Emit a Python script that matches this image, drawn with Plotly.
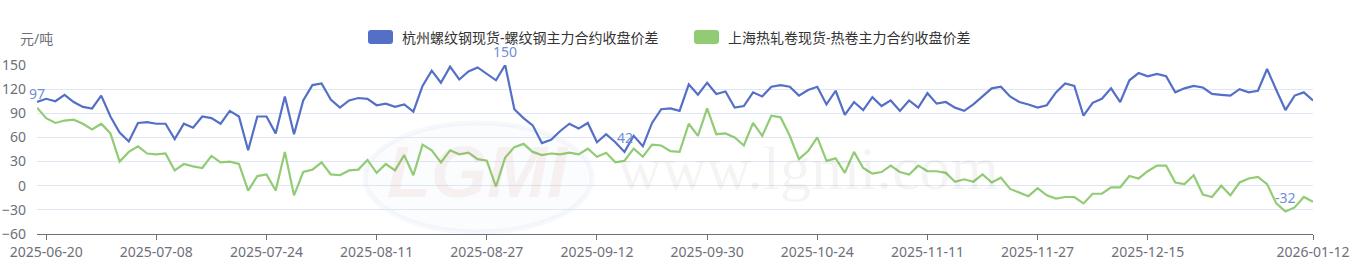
import pandas as pd
import plotly.graph_objects as go

# ---------------- data ----------------
HOLIDAYS = ["2025-10-01", "2025-10-02", "2025-10-03", "2025-10-06", "2025-10-07",
            "2025-10-08", "2026-01-01", "2026-01-02"]
dates = [d.strftime("%Y-%m-%d") for d in pd.bdate_range("2025-06-19", "2026-01-12")
         if d.strftime("%Y-%m-%d") not in HOLIDAYS]

rebar_spread = [
    104, 108, 105, 113, 104, 98, 96, 112, 86, 66,
    55, 78, 79, 77, 77, 58, 77, 72, 86, 84,
    77, 93, 86, 44, 86, 86, 65, 111, 64, 106,
    125, 127, 107, 97, 106, 109, 108, 100, 102, 98,
    101, 92, 124, 143, 128, 148, 132, 142, 147, 139,
    131, 150, 95, 84, 75, 53, 57, 68, 77, 71,
    78, 54, 64, 54, 42, 62, 49, 78, 95, 96,
    93, 126, 113, 128, 114, 117, 97, 99, 116, 111,
    123, 125, 123, 112, 119, 123, 101, 118, 88, 104,
    94, 110, 99, 106, 93, 106, 97, 115, 102, 104,
    97, 93, 101, 111, 121, 123, 111, 104, 101, 97,
    100, 116, 127, 124, 87, 103, 108, 121, 104, 131,
    140, 136, 139, 136, 116, 121, 124, 122, 114, 113,
    112, 120, 116, 118, 145, 119, 94, 112, 116, 106,
]
hrc_spread = [
    97, 84, 78, 81, 82, 77, 70, 77, 65, 30,
    42, 49, 40, 39, 40, 19, 27, 24, 22, 37,
    29, 30, 27, -6, 12, 14, -6, 42, -12, 17,
    20, 29, 14, 13, 19, 20, 32, 16, 27, 19,
    38, 13, 51, 44, 29, 44, 39, 41, 33, 31,
    -1, 35, 48, 52, 42, 38, 40, 39, 41, 39,
    46, 36, 41, 29, 31, 46, 36, 51, 50, 43,
    42, 77, 62, 96, 64, 65, 60, 50, 78, 62,
    87, 85, 62, 33, 43, 60, 31, 34, 16, 42,
    22, 15, 17, 25, 17, 14, 25, 18, 18, 16,
    5, 8, 5, 14, 4, 10, -4, -9, -13, -3,
    -12, -16, -14, -14, -22, -10, -10, -2, -2, 12,
    9, 18, 25, 25, 4, 2, 13, -11, -14, 0,
    -12, 4, 9, 11, 2, -22, -32, -27, -14, -20,
]
tick_labels = ["2025-06-20", "2025-07-08", "2025-07-24", "2025-08-11", "2025-08-27",
               "2025-09-12", "2025-09-30", "2025-10-24", "2025-11-11", "2025-11-27",
               "2025-12-15", "2026-01-12"]
series_names = ["杭州螺纹钢现货-螺纹钢主力合约收盘价差", "上海热轧卷现货-热卷主力合约收盘价差"]
colors = ["#5470C6", "#91CC75"]
y_ticks = [-60, -30, 0, 30, 60, 90, 120, 150]

# ---------------- layout geometry ----------------
W, H = 1360, 275
L, R, T, B = 37, 47, 65, 41
PW, PH = W - L - R, H - T - B


def px(xp):
    return (xp - L) / PW


def py(yp):
    return (H - B - yp) / PH


FONT = "Noto Sans, Noto Sans CJK SC, sans-serif"
GRAY = "#6E7079"

fig = go.Figure()
for name, vals, col in zip(series_names, [rebar_spread, hrc_spread], colors):
    fig.add_trace(go.Scatter(x=dates, y=vals, mode="lines", name=name,
                             line=dict(color=col, width=2.2), showlegend=False,
                             hoverinfo="x+y", cliponaxis=False))

# max / min labels
ann = []
LABEL_COLOR = "#6F8DD8"
for vals in [rebar_spread, hrc_spread]:
    for v in (max(vals), min(vals)):
        i = vals.index(v)
        ann.append(dict(x=dates[i], y=v, xref="x", yref="y", text=str(v), showarrow=False,
                        yshift=14, font=dict(family=FONT, size=14, color=LABEL_COLOR),
                        xanchor="center", yanchor="middle"))

# y-axis name
ann.append(dict(x=px(36), y=py(38), xref="paper", yref="paper", text="元/吨", showarrow=False,
                xanchor="center", yanchor="middle", font=dict(family=FONT, size=14, color=GRAY)))

# manual legend
shapes = []


def rrect(x0, y0, x1, y1, r):
    # rounded rectangle path in paper coords built from pixel values
    pts = (f"M {px(x0 + r)},{py(y0)} L {px(x1 - r)},{py(y0)} "
           f"Q {px(x1)},{py(y0)} {px(x1)},{py(y0 + r)} L {px(x1)},{py(y1 - r)} "
           f"Q {px(x1)},{py(y1)} {px(x1 - r)},{py(y1)} L {px(x0 + r)},{py(y1)} "
           f"Q {px(x0)},{py(y1)} {px(x0)},{py(y1 - r)} L {px(x0)},{py(y0 + r)} "
           f"Q {px(x0)},{py(y0)} {px(x0 + r)},{py(y0)} Z")
    return pts


legend_x = [368, 694]
for lx, name, col in zip(legend_x, series_names, colors):
    shapes.append(dict(type="path", xref="paper", yref="paper", path=rrect(lx, 30, lx + 25, 44, 3),
                       fillcolor=col, line=dict(width=0)))
    ann.append(dict(x=px(lx + 32), y=py(37), xref="paper", yref="paper", text=name, showarrow=False,
                    xanchor="left", yanchor="middle", font=dict(family=FONT, size=14, color="#333333")))

# watermark
shapes.append(dict(type="circle", xref="paper", yref="paper", x0=px(365), x1=px(592), y0=py(123), y1=py(232),
                   fillcolor="rgba(200,212,232,0.08)", line=dict(color="rgba(170,190,225,0.10)", width=5),
                   layer="below"))
ann.append(dict(x=px(478), y=py(172), xref="paper", yref="paper", text="<b><i>LGMI</i></b>", showarrow=False,
                xanchor="center", yanchor="middle",
                font=dict(family="Liberation Sans, sans-serif", size=72, color="rgba(200,120,120,0.09)")))
ann.append(dict(x=px(808), y=py(168), xref="paper", yref="paper", text="www.lgmi.com", showarrow=False,
                xanchor="center", yanchor="middle",
                font=dict(family="Liberation Serif, DejaVu Serif, serif", size=62, color="rgba(0,0,0,0.045)")))

fig.update_layout(
    width=W, height=H, margin=dict(l=L, r=R, t=T, b=B, pad=0, autoexpand=False),
    paper_bgcolor="white", plot_bgcolor="white",
    font=dict(family=FONT, size=14, color=GRAY),
    annotations=ann, shapes=shapes, hovermode="x unified",
)
fig.update_xaxes(type="category", range=[0, len(dates) - 1], tickmode="array", automargin=False,
                 tickvals=tick_labels, ticktext=tick_labels, showgrid=False,
                 showline=True, linecolor=GRAY, linewidth=1, ticks="outside", ticklen=5,
                 tickcolor=GRAY, tickfont=dict(family=FONT, size=14, color=GRAY), zeroline=False)
fig.update_yaxes(range=[-60, 150], tickmode="array", tickvals=y_ticks, showgrid=True, automargin=False,
                 gridcolor="#E0E6F1", gridwidth=1, zeroline=False, showline=False, ticks="",
                 tickfont=dict(family=FONT, size=14, color=GRAY), ticklabelstandoff=10)

fig.write_html("out.html")
